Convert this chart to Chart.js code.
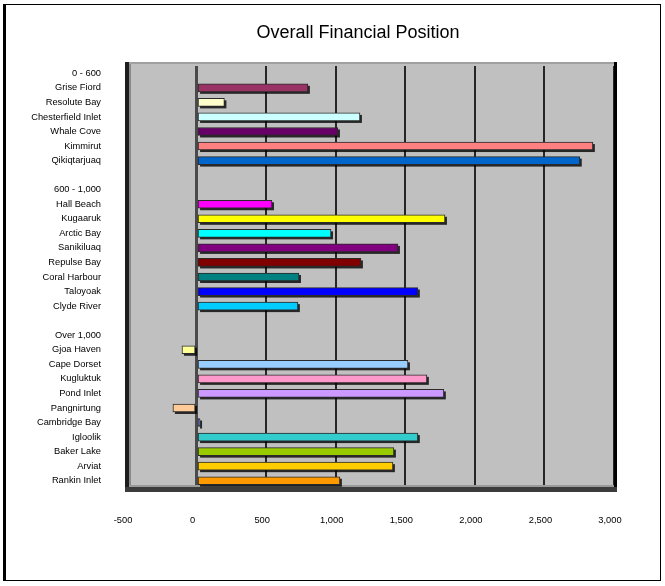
<!DOCTYPE html>
<html>
<head>
<meta charset="utf-8">
<script src="https://cdn.jsdelivr.net/npm/chart.js@4.4.0/dist/chart.umd.min.js"></script>
<style>
  html, body { margin: 0; padding: 0; background: #ffffff; }
  #c { display: block; }
</style>
</head>
<body>
<canvas id="c" width="665" height="586"></canvas>
<script>
// ---- Data ----
const categories = [
  "0 - 600", "Grise Fiord", "Resolute Bay", "Chesterfield Inlet", "Whale Cove", "Kimmirut", "Qikiqtarjuaq",
  "",
  "600 - 1,000", "Hall Beach", "Kugaaruk", "Arctic Bay", "Sanikiluaq", "Repulse Bay", "Coral Harbour", "Taloyoak", "Clyde River",
  "",
  "Over 1,000", "Gjoa Haven", "Cape Dorset", "Kugluktuk", "Pond Inlet", "Pangnirtung", "Cambridge Bay", "Igloolik", "Baker Lake", "Arviat", "Rankin Inlet"
];
const values = [
  null, 800, 200, 1174, 1016, 2848, 2754,
  null,
  null, 542, 1785, 966, 1447, 1181, 736, 1590, 728,
  null,
  null, -105, 1519, 1655, 1777, -170, 25, 1590, 1418, 1411, 1030
];
const barColors = [
  null, "#993366", "#FFFFCC", "#CCFFFF", "#660066", "#FF8080", "#0066CC",
  null,
  null, "#FF00FF", "#FFFF00", "#00FFFF", "#800080", "#800000", "#008080", "#0000FF", "#00CCFF",
  null,
  null, "#FFFF99", "#99CCFF", "#FF99CC", "#CC99FF", "#FFCC99", "#3366FF", "#33CCCC", "#99CC00", "#FFCC00", "#FF9900"
];
const xMin = -500;
const xMax = 3000;
const xStep = 500;
const chartTitle = "Overall Financial Position";

const FONT = "'Liberation Sans', Arial, Helvetica, sans-serif";

// ---- Decoration plugin: chart frame, title, gray back wall, 3D-ish edges, bar shadows ----
const framePlugin = {
  id: 'frame',
  beforeDraw(chart) {
    const ctx = chart.ctx;
    const a = chart.chartArea;
    ctx.save();
    ctx.fillStyle = '#ffffff';
    ctx.fillRect(0, 0, chart.width, chart.height);
    // outer chart border
    ctx.strokeStyle = '#000000';
    ctx.lineWidth = 1;
    ctx.strokeRect(4.5, 4.5, 656, 576);
    ctx.fillStyle = '#000000';
    ctx.fillRect(3, 4, 3, 577);
    // back wall
    ctx.fillStyle = '#C0C0C0';
    ctx.fillRect(a.left, a.top - 4, a.right - a.left, a.bottom - a.top + 4);
    // top light edge
    ctx.fillStyle = '#A0A0A0';
    ctx.fillRect(a.left, a.top - 4, a.right - a.left, 2);
    // title (centred over the plot like the reference)
    ctx.fillStyle = '#000000';
    ctx.font = "18px " + FONT;
    ctx.textAlign = 'center';
    ctx.textBaseline = 'middle';
    ctx.fillText(chartTitle, 358, 33);
    ctx.restore();
  },
  beforeDatasetsDraw(chart) {
    const ctx = chart.ctx;
    const a = chart.chartArea;
    ctx.save();
    // left wall edge
    ctx.fillStyle = '#1e1e1e';
    ctx.fillRect(a.left - 2, a.top - 4, 4, a.bottom - a.top + 8);
    ctx.fillStyle = '#8a8a8a';
    ctx.fillRect(a.left + 2, a.top - 2, 2, a.bottom - a.top + 2);
    // right edge
    ctx.fillStyle = '#000000';
    ctx.fillRect(a.right, a.top - 4, 3, a.bottom - a.top + 8);
    // floor edge
    ctx.fillStyle = '#3c3c3c';
    ctx.fillRect(a.left - 2, a.bottom - 1, a.right - a.left + 5, 5);
    ctx.fillStyle = '#9a9a9a';
    ctx.fillRect(a.left + 2, a.bottom - 3, a.right - a.left - 2, 2);
    // bar shadows, positioned from the library's own bar elements
    ctx.fillStyle = 'rgba(0,0,0,0.8)';
    const meta = chart.getDatasetMeta(0);
    meta.data.forEach((el) => {
      const p = el.getProps(['x', 'y', 'base', 'height'], true);
      if (p.x == null || isNaN(p.x) || isNaN(p.y)) return;
      const left = Math.min(p.x, p.base);
      const w = Math.abs(p.x - p.base);
      if (!w) return;
      ctx.fillRect(left + 2, p.y - p.height / 2 + 2, w, p.height);
    });
    ctx.restore();
  }
};

new Chart(document.getElementById('c'), {
  type: 'bar',
  data: {
    labels: categories,
    datasets: [{
      data: values,
      backgroundColor: barColors,
      borderColor: '#2a2a2a',
      borderWidth: 1,
      borderSkipped: false,
      barThickness: 8
    }]
  },
  options: {
    indexAxis: 'y',
    responsive: false,
    devicePixelRatio: 1,
    animation: false,
    layout: { padding: { left: 10, right: 51, top: 66, bottom: 10 } },
    plugins: {
      legend: { display: false },
      tooltip: { enabled: false },
      title: { display: false }
    },
    scales: {
      x: {
        type: 'linear',
        min: xMin,
        max: xMax,
        ticks: {
          stepSize: xStep,
          color: '#000000',
          font: { family: FONT, size: 9.3 },
          padding: 27,
          labelOffset: -4,
          maxRotation: 0,
          autoSkip: false
        },
        grid: {
          drawTicks: false,
          color: (c) => (c.tick && c.tick.value === 0) ? '#4a4a4a' : '#262626',
          lineWidth: (c) => (c.tick && c.tick.value === 0) ? 3 : 2
        },
        border: { display: false },
        afterFit(s) { s.height = 88; }
      },
      y: {
        type: 'category',
        ticks: {
          color: '#000000',
          font: { family: FONT, size: 9.3 },
          padding: 26,
          autoSkip: false
        },
        grid: { display: false, drawTicks: false },
        border: { display: false },
        afterFit(s) { s.width = 117; }
      }
    }
  },
  plugins: [framePlugin]
});
</script>
</body>
</html>
